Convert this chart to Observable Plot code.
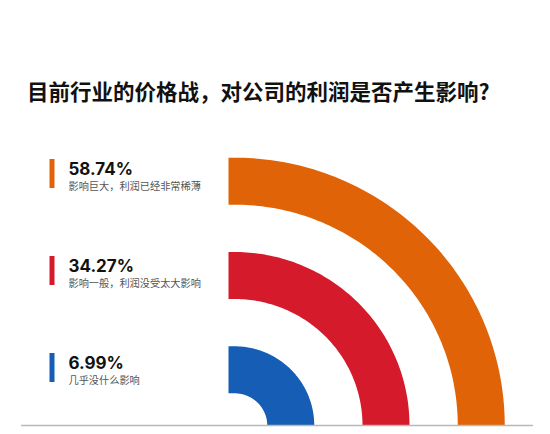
<!DOCTYPE html>
<html><head><meta charset="utf-8">
<script src="https://cdn.jsdelivr.net/npm/d3@7"></script>
<script src="https://cdn.jsdelivr.net/npm/@observablehq/plot@0.6"></script>
<style>
html,body{margin:0;padding:0;background:#fff;width:550px;height:434px;overflow:hidden}
#title{height:130px;box-sizing:border-box;padding:80px 0 0 27px;font:700 21.5px/22px "Noto Sans CJK SC",sans-serif;color:#111;white-space:nowrap}
#chart svg{display:block}
</style></head><body>
<div id="title">目前行业的价格战，对公司的利润是否产生影响?</div>
<div id="chart"></div>
<script>
// Data
const labels = ["影响巨大，利润已经非常稀薄", "影响一般，利润没受太大影响", "几乎没什么影响"];
const values = [58.74, 34.27, 6.99];
const colors = ["#E06407", "#D41A2B", "#155DB5"];

const n = labels.length;
const rows = labels.map((label, i) => ({label, value: values[i], i}));

// ring geometry (decorative, by rank)
const ringPts = [];
rows.forEach(d => {
  const k = n - 1 - d.i;
  const r = 55.7 + 94.3 * k;
  ringPts.push({label: d.label, x: -6, y: r});
  for (let a = 90; a >= 0; a -= 1) {
    const t = a * Math.PI / 180;
    ringPts.push({label: d.label, x: r * Math.cos(t) * 1.01, y: r * Math.sin(t)});
  }
});
const top0 = 266, step = 97;
const barTop = d => top0 - step * d.i;

const chart = Plot.plot({
  width: 550, height: 304,
  margin: 0,
  x: {domain: [-234, 316], axis: null},
  y: {domain: [-9, 295], axis: null},
  color: {domain: labels, range: colors},
  style: {background: "white", overflow: "visible"},
  marks: [
    Plot.line(ringPts, {x: "x", y: "y", z: "label", stroke: "label", strokeWidth: 47, strokeLinecap: "butt", strokeLinejoin: "round", curve: "linear"}),
    Plot.ruleY([0], {x1: -213, x2: 299, stroke: "#b8b8b8", strokeWidth: 1.5}),
    Plot.ruleX(rows, {x: -182.5, y1: d => barTop(d), y2: d => barTop(d) - 29, stroke: "label", strokeWidth: 5}),
    Plot.text(rows, {x: -166, y: d => barTop(d) - 15.5, text: d => d.value.toFixed(2) + "%", textAnchor: "start", lineAnchor: "bottom", fontSize: 17, fontWeight: 700, fontFamily: "Inter, Roboto, sans-serif", fill: "#111"}),
    Plot.text(rows, {x: -166, y: d => barTop(d) - 30, text: "label", textAnchor: "start", lineAnchor: "bottom", fontSize: 10.2, fontFamily: "Noto Sans CJK SC", fill: "#555"})
  ]
});
document.getElementById("chart").appendChild(chart);
</script>
</body></html>
